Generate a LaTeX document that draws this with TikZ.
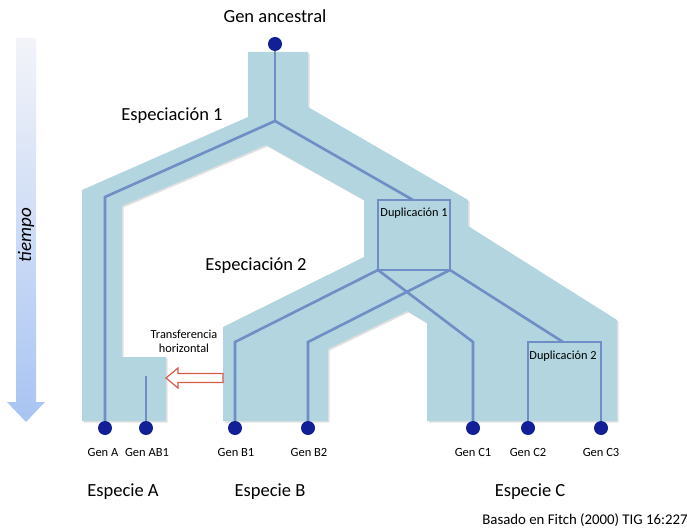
\documentclass[tikz,border=0pt]{standalone}
\usepackage{fontspec}
\setmainfont{Carlito}
\definecolor{bandblue}{RGB}{178,213,224}
\definecolor{linblue}{RGB}{112,142,198}
\definecolor{dotblue}{RGB}{18,32,152}
\definecolor{arrred}{RGB}{214,90,72}
\definecolor{timetop}{RGB}{243,244,249}
\definecolor{timebot}{RGB}{168,196,242}
\pgfdeclarelayer{bg}
\pgfdeclarelayer{mid}
\pgfsetlayers{bg,mid,main}
\begin{document}
\begin{tikzpicture}[x=1pt,y=-1pt,
  band/.style={fill=bandblue, draw=none},
  bandshadow/.style={fill=black, opacity=0.12, draw=none},
  branch/.style={draw=linblue, line width=2.6pt, line join=miter},
  gene/.style={circle, fill=dotblue, minimum size=14pt, inner sep=0pt},
  genlabel/.style={font=\fontsize{12.5}{14}\selectfont, inner sep=0pt},
  biglabel/.style={font=\fontsize{18.5}{21}\selectfont, inner sep=0pt},
  smalllabel/.style={font=\fontsize{12.3}{14}\selectfont, inner sep=0pt, align=center},
  transfer/.style={draw=arrred, fill=white, line width=1.2pt, line join=miter},
]
\useasboundingbox (0,0) rectangle (687,529);

% time arrow
\shade[top color=timetop, bottom color=timebot]
  (16,38) -- (36,38) -- (36,402) -- (45,402) -- (26,422) -- (7,402) -- (16,402) -- cycle;
\node[rotate=90, font=\fontsize{19}{21}\selectfont\itshape, inner sep=0pt] (tiempo) at (26,235) {tiempo};

% bands
\begin{pgfonlayer}{bg}
\begin{scope}[shift={(1.5,1.5)}]
\fill[bandshadow] (248,52) -- (308,52) -- (308,107) -- (468,200) -- (468,226) -- (617,320)
  -- (617,421) -- (427,421) -- (427,323) -- (407,311) -- (328,349) -- (328,421)
  -- (223,421) -- (223,327) -- (364,257) -- (364,200) -- (266,145) -- (122,206)
  -- (122,357) -- (166,357) -- (166,421) -- (82,421) -- (82,190) -- (248,117) -- cycle;
\end{scope}
\fill[band] (248,52) -- (308,52) -- (308,107) -- (468,200) -- (468,226) -- (617,320)
  -- (617,421) -- (427,421) -- (427,323) -- (407,311) -- (328,349) -- (328,421)
  -- (223,421) -- (223,327) -- (364,257) -- (364,200) -- (266,145) -- (122,206)
  -- (122,357) -- (166,357) -- (166,421) -- (82,421) -- (82,190) -- (248,117) -- cycle;
\end{pgfonlayer}

% gene nodes
\node[gene] (anc) at (275,44) {};
\node[gene] (gA)  at (105,428) {};
\node[gene] (gAB) at (146,428) {};
\node[gene] (gB1) at (235,428) {};
\node[gene] (gB2) at (308,428) {};
\node[gene] (gC1) at (473,428) {};
\node[gene] (gC2) at (528,428) {};
\node[gene] (gC3) at (601,428) {};

% junctions
\coordinate (root) at (275,121);
\coordinate (dA)   at (105,197);
\coordinate (d1t)  at (413,200);
\coordinate (d1a)  at (378,200);
\coordinate (d1b)  at (450,200);
\coordinate (d1c)  at (450,270);
\coordinate (d1d)  at (378,270);
\coordinate (b1)   at (235,342);
\coordinate (b2)   at (308,342);
\coordinate (c1)   at (473,342);
\coordinate (d2t)  at (563,342);
\coordinate (d2l)  at (528,342);
\coordinate (d2r)  at (601,342);
\coordinate (ab)   at (146,376);

\begin{pgfonlayer}{mid}
\draw[branch] (anc.center) -- (root);
\draw[branch] (root) -- (dA) -- (gA.center);
\draw[branch] (root) -- (d1t);
\draw[branch] (d1a) -- (d1b) -- (d1c) -- (d1d) -- cycle;
\draw[branch] (d1d) -- (b1) -- (gB1.center);
\draw[branch] (d1c) -- (b2) -- (gB2.center);
\draw[branch] (d1d) -- (c1) -- (gC1.center);
\draw[branch] (d1c) -- (d2t);
\draw[branch] (gC2.center) -- (d2l) -- (d2r) -- (gC3.center);
\draw[branch] (ab) -- (gAB.center);
\end{pgfonlayer}

% horizontal transfer arrow
\coordinate (trtip) at (166,378);
\coordinate (trtail) at (223,378);
\draw[transfer] (trtip) -- ++(12,-10) -- ++(0,5.5) -- (trtail |- 0,373.5) -- (trtail |- 0,382.5)
  -- (178,382.5) -- ++(0,5.5) -- cycle;
\node[smalllabel] (trlabel) at (184,341) {Transferencia\\horizontal};

% labels
\node[biglabel] (lanc) at (275,16) {Gen ancestral};
\node[biglabel] (lesp1) at (172,116) {Especiación 1};
\node[biglabel] (lesp2) at (256,266) {Especiación 2};
\node[smalllabel] (ldup1) at (414,213) {Duplicación 1};
\node[smalllabel] (ldup2) at (563,356) {Duplicación 2};

\node[genlabel] at (103,452) {Gen A};
\node[genlabel] at (147,452) {Gen AB1};
\node[genlabel] at (236,452) {Gen B1};
\node[genlabel] at (309,452) {Gen B2};
\node[genlabel] at (473,452) {Gen C1};
\node[genlabel] at (528,452) {Gen C2};
\node[genlabel] at (601,452) {Gen C3};

\node[biglabel] (spA) at (123,492) {Especie A};
\node[biglabel] (spB) at (270,492) {Especie B};
\node[biglabel] (spC) at (530,492) {Especie C};

\node[font=\fontsize{14.8}{17}\selectfont, inner sep=0pt] (src) at (585,520) {Basado en Fitch (2000) TIG 16:227};
\end{tikzpicture}
\end{document}
